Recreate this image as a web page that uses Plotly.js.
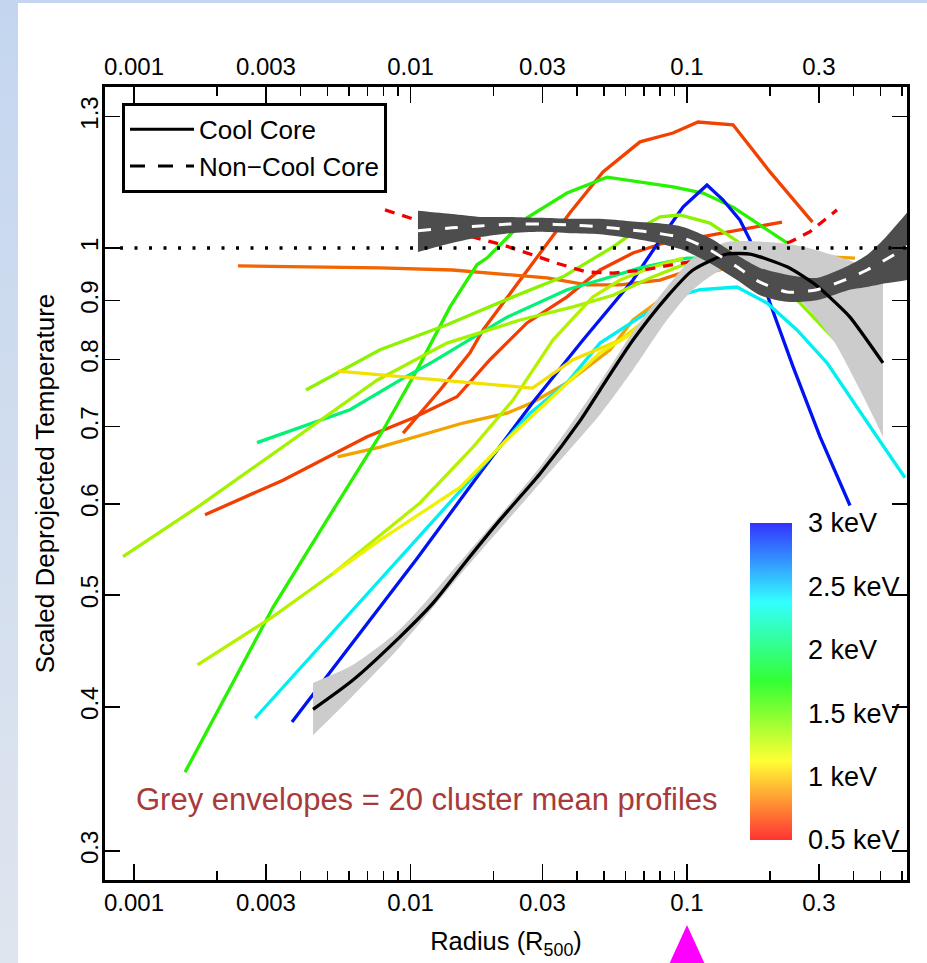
<!DOCTYPE html>
<html><head><meta charset="utf-8">
<script src="https://cdn.plot.ly/plotly-3.0.1.min.js"></script>
<style>
html,body{margin:0;padding:0;background:#fff;width:927px;height:963px;overflow:hidden;}
#lstrip{position:absolute;left:0;top:0;width:18px;height:963px;background:linear-gradient(#c4d6ef,#dfe5ee);}
#tstrip{position:absolute;left:0;top:0;width:927px;height:3px;background:#c4d6ef;}
#plot{position:absolute;left:0;top:0;width:927px;height:963px;}
</style></head><body>
<div id="lstrip"></div><div id="tstrip"></div><div id="plot"></div>
<script>
// ---------------- data ----------------
const xTickVals = [0.001, 0.003, 0.01, 0.03, 0.1, 0.3];
const xTickText = ['0.001', '0.003', '0.01', '0.03', '0.1', '0.3'];
const xMinorVals = [0.002, 0.004, 0.005, 0.006, 0.007, 0.008, 0.009, 0.02, 0.04, 0.05, 0.06, 0.07, 0.08, 0.09, 0.2, 0.4, 0.5, 0.6];
const yTickVals = [0.3, 0.4, 0.5, 0.6, 0.7, 0.8, 0.9, 1, 1.3];
const yTickText = ['0.3', '0.4', '0.5', '0.6', '0.7', '0.8', '0.9', '1', '1.3'];
const cbTickVals = [0.5, 1, 1.5, 2, 2.5, 3];
const cbTickText = ['0.5 keV', '1 keV', '1.5 keV', '2 keV', '2.5 keV', '3 keV'];
const markR = 0.1;

// individual cluster profiles (radius in R500, scaled temperature), mean kT in keV
const clA_R = [0.0094, 0.01279, 0.01641, 0.01829, 0.02705, 0.03774, 0.04968, 0.06761, 0.08899, 0.1096, 0.1467, 0.1996, 0.2844];
const clA_T = [0.691, 0.753, 0.811, 0.849, 0.963, 1.073, 1.164, 1.236, 1.258, 1.286, 1.279, 1.164, 1.053];
const clB_R = [0.001806, 0.003458, 0.006963, 0.01021, 0.01473, 0.01938, 0.02638, 0.03681, 0.04846, 0.06378, 0.08466, 0.1114, 0.2206];
const clB_T = [0.587, 0.629, 0.686, 0.712, 0.743, 0.800, 0.861, 0.907, 0.957, 0.990, 1.012, 1.022, 1.053];
const clC_R = [0.002377, 0.007759, 0.0142, 0.01784, 0.03115, 0.04348, 0.05726, 0.07988, 0.1025, 0.1316];
const clC_T = [0.965, 0.961, 0.957, 0.953, 0.942, 0.929, 0.929, 0.938, 0.957, 0.972];
const clD_R = [0.005445, 0.007759, 0.01548, 0.02234, 0.02773, 0.03681, 0.05266, 0.06378, 0.07988, 0.1114, 0.1837, 0.3373, 0.4052];
const clD_T = [0.659, 0.672, 0.705, 0.719, 0.735, 0.764, 0.816, 0.866, 0.901, 0.948, 0.976, 0.982, 0.980];
const clE_R = [0.001529, 0.003182, 0.004989, 0.007955, 0.01056, 0.0139, 0.01739, 0.0189, 0.02638, 0.03681, 0.05136, 0.08899, 0.1143, 0.1467, 0.23];
const clE_T = [0.351, 0.488, 0.581, 0.695, 0.784, 0.889, 0.967, 0.980, 1.062, 1.116, 1.152, 1.130, 1.116, 1.085, 1.010];
const clF_R = [0.003727, 0.01056, 0.01784, 0.02773, 0.04206, 0.06378, 0.08466, 0.09672, 0.1181, 0.1349, 0.1555, 0.169, 0.1996, 0.2418, 0.3027, 0.3886];
const clF_T = [0.388, 0.538, 0.638, 0.735, 0.832, 0.938, 1.037, 1.085, 1.134, 1.101, 1.057, 1.016, 0.896, 0.789, 0.686, 0.598];
const clG_R = [0.002739, 0.009162, 0.01641, 0.02705, 0.03681, 0.04846, 0.06761, 0.09434, 0.1114, 0.1516, 0.1947, 0.2499, 0.3209, 0.4866, 0.6143];
const clG_T = [0.391, 0.538, 0.629, 0.719, 0.764, 0.827, 0.871, 0.910, 0.920, 0.925, 0.896, 0.849, 0.795, 0.686, 0.632];
const clH_R = [0.002785, 0.006042, 0.009162, 0.01206, 0.02234, 0.03681, 0.04846, 0.06761, 0.08466, 0.1, 0.1316];
const clH_T = [0.678, 0.724, 0.768, 0.797, 0.871, 0.920, 0.938, 0.961, 0.972, 0.980, 0.980];
const clI_R = [0.000912, 0.001733, 0.007567, 0.01355, 0.02489, 0.0387, 0.054, 0.07349, 0.1025, 0.1316];
const clI_T = [0.540, 0.598, 0.768, 0.827, 0.866, 0.889, 0.910, 0.942, 0.972, 0.980];
const clJ_R = [0.004188, 0.007759, 0.01355, 0.02348, 0.03558, 0.054, 0.06761, 0.07988, 0.09434, 0.1211, 0.1594, 0.1947, 0.2563, 0.3791];
const clJ_T = [0.753, 0.816, 0.858, 0.907, 0.944, 1.002, 1.041, 1.064, 1.068, 1.051, 1.006, 0.959, 0.896, 0.812];
const clL_R = [0.001697, 0.003182, 0.005244, 0.01082, 0.01683, 0.02348, 0.03274, 0.04571, 0.05726, 0.07349, 0.09672];
const clL_T = [0.435, 0.479, 0.522, 0.601, 0.672, 0.738, 0.832, 0.907, 0.938, 0.961, 0.980];
const clM_R = [0.005445, 0.0139, 0.02762, 0.0387, 0.05726, 0.08466, 0.1114];
const clM_T = [0.782, 0.767, 0.756, 0.800, 0.832, 0.896, 0.948];
const clN_R = [0.005244, 0.007759, 0.0151, 0.0229, 0.03471, 0.04846, 0.06378, 0.09672];
const clN_T = [0.522, 0.558, 0.620, 0.686, 0.753, 0.811, 0.844, 0.938];
const clK_R = [0.008087, 0.01056, 0.01739, 0.0216, 0.02773, 0.03385, 0.04348, 0.054, 0.06933, 0.08826, 0.1114, 0.1555, 0.2358, 0.2785, 0.3487];
const clK_T = [1.079, 1.057, 1.020, 1.006, 0.986, 0.970, 0.953, 0.951, 0.957, 0.967, 0.976, 0.990, 1.012, 1.033, 1.079];

const clusterR  = [clA_R, clB_R, clC_R, clD_R, clE_R, clF_R, clG_R, clH_R, clI_R, clJ_R, clL_R, clM_R, clN_R, clK_R];
const clusterT  = [clA_T, clB_T, clC_T, clD_T, clE_T, clF_T, clG_T, clH_T, clI_T, clJ_T, clL_T, clM_T, clN_T, clK_T];
const clusterKT = [0.67, 0.66, 0.76, 0.92, 1.65, 2.95, 2.38, 2.06, 1.33, 1.39, 1.28, 1.08, 1.13, 0.5];
const clusterCC = [true, true, true, true, true, true, true, true, true, true, true, true, true, false];

// cool core mean profile and envelope
const ccR = [0.004441, 0.006194, 0.009162, 0.01206, 0.01601, 0.02107, 0.0294, 0.04102, 0.04846, 0.06378, 0.08466, 0.1051, 0.1395, 0.1516, 0.169, 0.23, 0.2953, 0.3575, 0.3886, 0.5114];
const ccT = [0.398, 0.422, 0.460, 0.492, 0.536, 0.581, 0.637, 0.708, 0.753, 0.832, 0.907, 0.957, 0.988, 0.989, 0.988, 0.963, 0.927, 0.889, 0.871, 0.795];
const ccBandR = [0.004441, 0.006194, 0.009162, 0.01601, 0.0294, 0.04846, 0.06378, 0.08466, 0.1051, 0.1395, 0.1947, 0.2563, 0.3373, 0.4225, 0.5114];
const ccHi = [0.4196, 0.435, 0.467, 0.543, 0.646, 0.765, 0.846, 0.925, 0.980, 1.012, 1.012, 1.004, 0.986, 0.967, 0.934];
const ccLo = [0.378, 0.409, 0.451, 0.529, 0.625, 0.717, 0.784, 0.866, 0.920, 0.961, 0.938, 0.901, 0.832, 0.753, 0.686];

// non-cool core mean profile and envelope
const nccR = [0.01064, 0.01413, 0.01784, 0.0229, 0.0294, 0.03774, 0.04846, 0.06221, 0.07788, 0.09672, 0.1211, 0.1516, 0.1837, 0.23, 0.2953, 0.3886, 0.4477, 0.5748, 0.7564];
const nccT = [1.035, 1.041, 1.045, 1.049, 1.049, 1.047, 1.043, 1.037, 1.030, 1.020, 0.996, 0.963, 0.934, 0.916, 0.920, 0.942, 0.957, 0.990, 1.033];
const nccBandR = [0.01064, 0.01413, 0.01784, 0.0229, 0.0294, 0.03774, 0.04846, 0.06221, 0.07788, 0.09672, 0.1211, 0.1516, 0.1837, 0.23, 0.2953, 0.3886, 0.4477, 0.5114, 0.6247, 0.7564];
const nccHi = [1.077, 1.070, 1.064, 1.064, 1.062, 1.060, 1.060, 1.055, 1.051, 1.043, 1.020, 0.986, 0.961, 0.948, 0.942, 0.967, 0.986, 1.016, 1.073, 1.134];
const nccLo = [0.992, 1.010, 1.022, 1.030, 1.033, 1.030, 1.028, 1.020, 1.010, 0.996, 0.970, 0.938, 0.910, 0.898, 0.901, 0.920, 0.925, 0.931, 0.938, 0.948];

const unityR = [0.00089, 0.7];
const unityT = [1, 1];

// ---------------- helpers ----------------
const FONT = 'Liberation Sans, Arial, Helvetica, sans-serif';
function hsv2rgb(h, s, v) {
  const c = v * s, hp = h / 60, x = c * (1 - Math.abs(hp % 2 - 1));
  let r = 0, g = 0, b = 0;
  if (hp < 1) { r = c; g = x; } else if (hp < 2) { r = x; g = c; }
  else if (hp < 3) { g = c; b = x; } else if (hp < 4) { g = x; b = c; }
  else if (hp < 5) { r = x; b = c; } else { r = c; b = x; }
  const m = v - c;
  return 'rgb(' + Math.round((r + m) * 255) + ',' + Math.round((g + m) * 255) + ',' + Math.round((b + m) * 255) + ')';
}
const kMin = cbTickVals[0], kMax = cbTickVals[cbTickVals.length - 1];
function keVColor(kT, s, v) { return hsv2rgb(Math.max(0, Math.min(240, (kT - kMin) / (kMax - kMin) * 240)), s, v); }

const cbScale = [];
for (let i = 0; i <= 24; i++) { const f = i / 24; cbScale.push([f, hsv2rgb(f * 240, 0.8, 1)]); }

const xRange = [-3.1049, -0.2043];
const yRange = [-0.5481, 0.1396];

// ---------------- traces ----------------
const traces = [];
for (let i = 0; i < clusterR.length; i++) {
  traces.push({
    type: 'scatter', mode: 'lines', x: clusterR[i], y: clusterT[i],
    line: { color: keVColor(clusterKT[i], 1, 0.95), width: 3.3, dash: clusterCC[i] ? 'solid' : '10px,8px' },
    showlegend: false, hoverinfo: 'skip'
  });
}
function band(R, lo, hi, col) {
  traces.push({ type: 'scatter', mode: 'lines', x: R, y: lo, line: { width: 0, color: col, shape: 'spline', smoothing: 0.7 }, showlegend: false, hoverinfo: 'skip' });
  traces.push({ type: 'scatter', mode: 'lines', x: R, y: hi, fill: 'tonexty', fillcolor: col, line: { width: 0, color: col, shape: 'spline', smoothing: 0.7 }, showlegend: false, hoverinfo: 'skip' });
}
band(ccBandR, ccLo, ccHi, '#cccccc');
band(nccBandR, nccLo, nccHi, '#4d4d4d');
traces.push({ type: 'scatter', mode: 'lines', x: ccR, y: ccT, line: { color: 'black', width: 3.3, shape: 'spline', smoothing: 0.7 }, showlegend: false, hoverinfo: 'skip' });
traces.push({ type: 'scatter', mode: 'lines', x: nccR, y: nccT, line: { color: 'white', width: 3, dash: '13px,14px', shape: 'spline', smoothing: 0.7 }, showlegend: false, hoverinfo: 'skip' });
traces.push({ type: 'scatter', mode: 'lines', x: unityR, y: unityT, line: { color: 'black', width: 3.5, dash: '3px,11.5px' }, showlegend: false, hoverinfo: 'skip' });
traces.push({ type: 'scatter', mode: 'lines', x: [null], y: [null], name: 'Cool Core', line: { color: 'black', width: 3 } });
traces.push({ type: 'scatter', mode: 'lines', x: [null], y: [null], name: 'Non\u2212Cool Core', line: { color: 'black', width: 3, dash: '15px,13px' } });
traces.push({
  type: 'scatter', mode: 'markers', x: [0.01], y: [1], showlegend: false, hoverinfo: 'skip',
  marker: {
    size: 1, opacity: 0, color: [kMin, kMax], cmin: kMin, cmax: kMax, colorscale: cbScale, showscale: true,
    colorbar: {
      x: 0.804, xanchor: 'left', y: 0.2503, yanchor: 'middle', len: 317, lenmode: 'pixels',
      thickness: 42, thicknessmode: 'pixels', xpad: 0, ypad: 0, outlinewidth: 0,
      tickmode: 'array', tickvals: cbTickVals, ticktext: cbTickText, ticks: 'outside', ticklen: 11,
      tickcolor: 'rgba(0,0,0,0)', tickfont: { size: 27, family: FONT, color: 'black' }, bgcolor: 'rgba(0,0,0,0)'
    }
  }
});
traces.push({ type: 'scatter', mode: 'lines', x: [null], y: [null], xaxis: 'x2', showlegend: false, hoverinfo: 'skip' });

const fx = (Math.log10(markR) - xRange[0]) / (xRange[1] - xRange[0]);

const layout = {
  width: 927, height: 963,
  margin: { l: 105, r: 20, t: 87, b: 83, pad: 0 },
  paper_bgcolor: 'rgba(0,0,0,0)', plot_bgcolor: 'white',
  font: { family: FONT, color: 'black' },
  showlegend: true,
  xaxis: {
    type: 'log', range: xRange, showgrid: false, zeroline: false,
    showline: true, linewidth: 3, linecolor: 'black', mirror: true,
    ticks: 'inside', ticklen: 16, tickwidth: 1.5, tickcolor: 'black',
    tickmode: 'array', tickvals: xTickVals, ticktext: xTickText,
    tickfont: { size: 24, family: FONT, color: 'black' }, ticklabelstandoff: -1,
    minor: { tickmode: 'array', tickvals: xMinorVals, ticks: 'inside', ticklen: 9, tickwidth: 1.5, tickcolor: 'black', showgrid: false },
    title: { text: 'Radius (R<sub>500</sub>)', font: { size: 25.5, family: FONT, color: 'black' }, standoff: 18 }
  },
  xaxis2: {
    type: 'log', range: xRange, overlaying: 'x', side: 'top', showgrid: false, zeroline: false, showline: false,
    ticks: 'inside', ticklen: 16, tickwidth: 1.5, tickcolor: 'black',
    tickmode: 'array', tickvals: xTickVals, ticktext: xTickText,
    tickfont: { size: 24, family: FONT, color: 'black' }, ticklabelstandoff: 6,
    minor: { tickmode: 'array', tickvals: xMinorVals, ticks: 'inside', ticklen: 9, tickwidth: 1.5, tickcolor: 'black', showgrid: false }
  },
  yaxis: {
    type: 'log', range: yRange, showgrid: false, zeroline: false,
    showline: true, linewidth: 3, linecolor: 'black', mirror: 'ticks',
    ticks: 'inside', ticklen: 15, tickwidth: 1.5, tickcolor: 'black',
    tickmode: 'array', tickvals: yTickVals, ticktext: yTickText, tickangle: -90,
    tickfont: { size: 24, family: FONT, color: 'black' }, ticklabelstandoff: -6,
    title: { text: 'Scaled Deprojected Temperature', font: { size: 26, family: FONT, color: 'black' }, standoff: 15 }
  },
  legend: {
    x: 0.0212, y: 0.98, xanchor: 'left', yanchor: 'top', bgcolor: 'white', bordercolor: 'black', borderwidth: 3,
    font: { size: 26, family: FONT, color: 'black' }, itemwidth: 64, tracegroupgap: 0, traceorder: 'normal'
  },
  annotations: [{
    text: 'Grey envelopes = 20 cluster mean profiles', xref: 'paper', yref: 'paper', x: 0.402, y: 0.1009,
    xanchor: 'center', yanchor: 'middle', showarrow: false, font: { size: 31, family: FONT, color: '#a83a3a' }
  }],
  shapes: [{
    type: 'path', xref: 'paper', yref: 'paper', layer: 'above',
    path: 'M ' + fx + ' -0.0567 L ' + (fx - 0.0249) + ' -0.112 L ' + (fx + 0.0249) + ' -0.112 Z',
    fillcolor: '#ff00ff', line: { width: 0 }
  }]
};

Plotly.newPlot('plot', traces, layout, { staticPlot: true, displayModeBar: false });
</script></body></html>
